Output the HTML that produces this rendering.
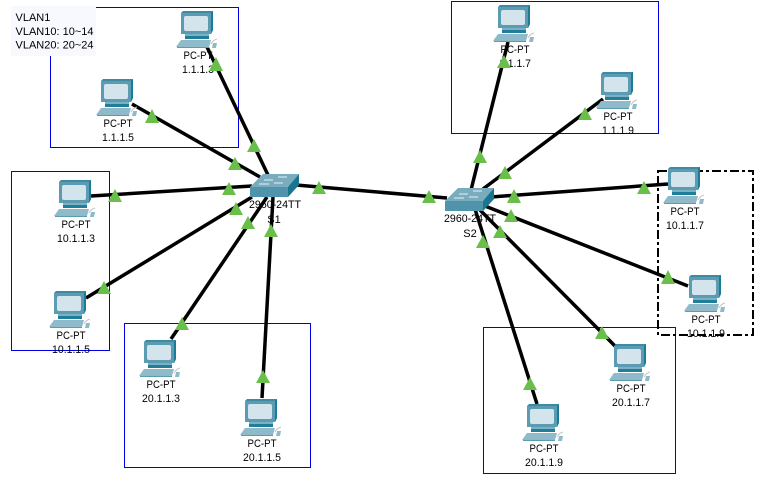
<!DOCTYPE html>
<html><head><meta charset="utf-8"><style>
html,body{margin:0;padding:0;background:#fff}
svg{display:block}
text{font-family:"Liberation Sans",Arial,sans-serif;font-size:11px;fill:#000;text-anchor:middle}
.box{fill:none;stroke:#0000e6;stroke-width:1}
.l{stroke:#000;stroke-width:3.5;fill:none}
.t{fill:#6abf4b}
</style></head><body>
<svg width="765" height="484" viewBox="0 0 765 484" xmlns="http://www.w3.org/2000/svg">
<defs>
<g id="pc">
<polygon points="5,2 7,0 37,0 37,19 35,23 5,23" fill="#3f8aa3"/>
<polygon points="5,2 35,2 35,23 5,23" fill="#5b9cb3"/>
<polygon points="35,2 37,0 37,19 35,23" fill="#1a7c96"/>
<rect x="8" y="5" width="24" height="15" rx="2" fill="#d4e4ec"/>
<rect x="9" y="23" width="24" height="2" fill="#7fb0c2"/>
<rect x="9" y="25" width="24" height="3" fill="#1f7f9b"/>
<polygon points="5,29 35,29 33,36 0,36" fill="#8fbac9"/>
<rect x="1" y="36" width="32" height="1" fill="#5b9cb3"/>
<path d="M35 33 Q37 29 41 28" fill="none" stroke="#c4c4c4" stroke-width="1"/>
<polygon points="36,37 37,32 41,32 40,37" fill="#8fbac9"/>
</g>
<g id="sw">
<polygon points="0,13 13,0 49,0 40,12 37,13" fill="#78acbe"/>
<polygon points="0,13 38,13 38,23 0,23" fill="#5094ac"/>
<polygon points="38,13 49,0 49,11 38,23" fill="#1a7690"/>
<path d="M14 6h9M28 3h9M9 10h10M24 9h9" stroke="#e8f2f5" stroke-width="1"/>
</g>
</defs>

<rect class="box" x="50.5" y="7.5" width="188" height="140"/>
<rect class="box" x="11.5" y="171.5" width="98" height="179"/>
<rect class="box" x="124.5" y="323.5" width="186" height="144"/>
<rect class="box" x="451.5" y="1.5" width="207" height="132"/>
<rect class="box" x="483.5" y="327.5" width="192" height="146"/>
<rect x="658" y="171" width="95" height="164" fill="none" stroke="#000" stroke-width="2" stroke-dasharray="9 3 3 3"/>

<rect x="11" y="6" width="85" height="50" fill="#f8f9ff"/>
<text x="15.5" y="21" style="text-anchor:start">VLAN1</text>
<text x="15.5" y="35" style="text-anchor:start">VLAN10: 10~14</text>
<text x="15.5" y="48.500" style="text-anchor:start">VLAN20: 20~24</text>

<g>
<text x="198" y="59" textLength="29" lengthAdjust="spacingAndGlyphs">PC-PT</text><text x="198" y="73" textLength="32" lengthAdjust="spacingAndGlyphs">1.1.1.3</text>
<text x="118" y="127" textLength="29" lengthAdjust="spacingAndGlyphs">PC-PT</text><text x="118" y="141" textLength="32" lengthAdjust="spacingAndGlyphs">1.1.1.5</text>
<text x="76" y="228" textLength="29" lengthAdjust="spacingAndGlyphs">PC-PT</text><text x="76" y="242" textLength="38" lengthAdjust="spacingAndGlyphs">10.1.1.3</text>
<text x="71" y="339" textLength="29" lengthAdjust="spacingAndGlyphs">PC-PT</text><text x="71" y="353" textLength="38" lengthAdjust="spacingAndGlyphs">10.1.1.5</text>
<text x="161" y="388" textLength="29" lengthAdjust="spacingAndGlyphs">PC-PT</text><text x="161" y="402" textLength="38" lengthAdjust="spacingAndGlyphs">20.1.1.3</text>
<text x="262" y="447" textLength="29" lengthAdjust="spacingAndGlyphs">PC-PT</text><text x="262" y="461" textLength="38" lengthAdjust="spacingAndGlyphs">20.1.1.5</text>
<text x="515" y="53" textLength="29" lengthAdjust="spacingAndGlyphs">PC-PT</text><text x="515" y="67" textLength="32" lengthAdjust="spacingAndGlyphs">1.1.1.7</text>
<text x="618" y="120" textLength="29" lengthAdjust="spacingAndGlyphs">PC-PT</text><text x="618" y="134" textLength="32" lengthAdjust="spacingAndGlyphs">1.1.1.9</text>
<text x="685" y="215" textLength="29" lengthAdjust="spacingAndGlyphs">PC-PT</text><text x="685" y="229" textLength="38" lengthAdjust="spacingAndGlyphs">10.1.1.7</text>
<text x="706" y="323" textLength="29" lengthAdjust="spacingAndGlyphs">PC-PT</text><text x="706" y="337" textLength="38" lengthAdjust="spacingAndGlyphs">10.1.1.9</text>
<text x="631" y="392" textLength="29" lengthAdjust="spacingAndGlyphs">PC-PT</text><text x="631" y="406" textLength="38" lengthAdjust="spacingAndGlyphs">20.1.1.7</text>
<text x="544" y="452" textLength="29" lengthAdjust="spacingAndGlyphs">PC-PT</text><text x="544" y="466" textLength="38" lengthAdjust="spacingAndGlyphs">20.1.1.9</text>
</g>

<g class="l">
<line x1="207" y1="47" x2="268" y2="175"/>
<line x1="132" y1="104" x2="260" y2="177"/>
<line x1="91" y1="196" x2="252" y2="186"/>
<line x1="86" y1="298" x2="252" y2="197"/>
<line x1="171" y1="339" x2="267" y2="197"/>
<line x1="262" y1="398" x2="273" y2="197"/>
<line x1="296" y1="185" x2="447" y2="198"/>
<line x1="508" y1="42" x2="471" y2="190"/>
<line x1="603" y1="99" x2="483" y2="189"/>
<line x1="668" y1="184" x2="491" y2="197"/>
<line x1="688" y1="286" x2="485" y2="206"/>
<line x1="615" y1="346" x2="478" y2="208"/>
<line x1="537" y1="404" x2="475" y2="209"/>
</g>

<g class="t">
<polygon points="216,57 209,71 223,71"/>
<polygon points="254,139 247,152 261,152"/>
<polygon points="152,109 145,123 159,123"/>
<polygon points="235,157 228,170 242,170"/>
<polygon points="115,189 108,202 122,202"/>
<polygon points="229,182 222,195 236,195"/>
<polygon points="236,202 229,215 243,215"/>
<polygon points="248,216 241,229 255,229"/>
<polygon points="271,224 264,237 278,237"/>
<polygon points="319,181 312,194 326,194"/>
<polygon points="104,281 97,294 111,294"/>
<polygon points="182,317 175,330 189,330"/>
<polygon points="263,370 256,383 270,383"/>
<polygon points="504,55 497,68 511,68"/>
<polygon points="480,150 473,163 487,163"/>
<polygon points="585,107 578,120 592,120"/>
<polygon points="505,166 498,179 512,179"/>
<polygon points="514,189 507,203 521,203"/>
<polygon points="644,181 637,194 651,194"/>
<polygon points="511,209 504,222 518,222"/>
<polygon points="500,225 493,238 507,238"/>
<polygon points="483,235 476,248 490,248"/>
<polygon points="429,190 422,203 436,203"/>
<polygon points="668,270 661,284 675,284"/>
<polygon points="602,326 595,339 609,339"/>
<polygon points="530,377 523,390 537,390"/>
</g>

<use href="#pc" x="176" y="11"/>
<use href="#pc" x="96" y="79"/>
<use href="#pc" x="54" y="180"/>
<use href="#pc" x="49" y="291"/>
<use href="#pc" x="139" y="340"/>
<use href="#pc" x="240" y="399"/>
<use href="#pc" x="493" y="5"/>
<use href="#pc" x="596" y="72"/>
<use href="#pc" x="663" y="167"/>
<use href="#pc" x="684" y="275"/>
<use href="#pc" x="609" y="344"/>
<use href="#pc" x="522" y="404"/>
<use href="#sw" x="250" y="174"/>
<use href="#sw" x="445" y="188"/>

<text x="275" y="208" textLength="52" lengthAdjust="spacingAndGlyphs">2960-24TT</text><text x="274" y="223">S1</text>
<text x="470" y="222" textLength="52" lengthAdjust="spacingAndGlyphs">2960-24TT</text><text x="470" y="237">S2</text>
</svg>
</body></html>
